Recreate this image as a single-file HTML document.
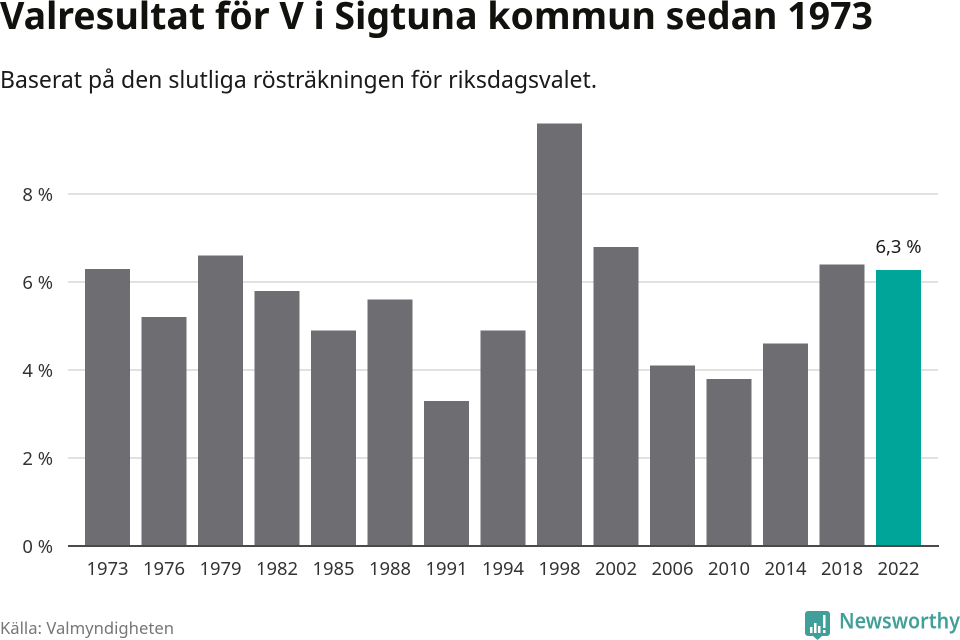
<!DOCTYPE html>
<html lang="sv">
<head>
<meta charset="utf-8">
<title>Valresultat för V i Sigtuna kommun sedan 1973</title>
<style>
html,body{margin:0;padding:0;background:#fff;width:960px;height:640px;overflow:hidden}
svg{display:block}
text{font-family:"Noto Sans","Open Sans","Liberation Sans","Noto Sans CJK SC",sans-serif}
</style>
</head>
<body>
<svg id="chart" width="960" height="640" viewBox="0 0 960 640" xmlns="http://www.w3.org/2000/svg">
  <text x="0" y="29" font-size="38" font-weight="700" fill="#11120d" textLength="873" lengthAdjust="spacingAndGlyphs">Valresultat för V i Sigtuna kommun sedan 1973</text>
  <text x="0" y="88" font-size="24" fill="#1a1a1a" textLength="597" lengthAdjust="spacingAndGlyphs">Baserat på den slutliga rösträkningen för riksdagsvalet.</text>
  <g id="grid"></g>
  <g id="bars"></g>
  <g id="axis"></g>
  <text x="0" y="634" font-size="16.6" fill="#767676" textLength="174" lengthAdjust="spacingAndGlyphs">Källa: Valmyndigheten</text>
  <g>
    <path d="M808 611h19a3 3 0 0 1 3 3v19a3 3 0 0 1-3 3h-5l-4.500 4-4.500-4h-5a3 3 0 0 1-3-3v-19a3 3 0 0 1 3-3z" fill="#409f98"/>
    <g fill="#fff">
      <rect x="810" y="627" width="2.500" height="6"/>
      <rect x="814" y="623" width="2.500" height="10"/>
      <rect x="818" y="626" width="2.500" height="7"/>
      <rect x="823" y="615" width="2.500" height="13"/>
      <rect x="823" y="630" width="2.500" height="3"/>
    </g>
    <text x="839" y="628.500" font-size="21.500" font-weight="600" fill="#409f98" textLength="121" lengthAdjust="spacingAndGlyphs">Newsworthy</text>
  </g>
</svg>
<script>
const categories = ["1973","1976","1979","1982","1985","1988","1991","1994","1998","2002","2006","2010","2014","2018","2022"];
const seriesValues = [6.3,5.2,6.6,5.8,4.9,5.6,3.3,4.9,9.6,6.8,4.1,3.8,4.6,6.4,6.27];
const yTicks = [0,2,4,6,8];
const yTickLabels = ["0 %","2 %","4 %","6 %","8 %"];
const highlightLabel = "6,3 %";

const NS = "http://www.w3.org/2000/svg";
const plotLeft = 79, bandStep = 56.5, barWidth = 45;
const plotRight = 938, axisLeft = 68;
const baseY = 546, unitPx = 44;
function xBand(i){ return plotLeft + bandStep * i; }
function yScale(v){ return baseY - v * unitPx; }
function make(tag, attrs, parent, content){
  const el = document.createElementNS(NS, tag);
  for (const k in attrs) el.setAttribute(k, attrs[k]);
  if (content !== undefined) el.textContent = content;
  parent.appendChild(el);
  return el;
}
const grid = document.getElementById("grid");
const bars = document.getElementById("bars");
const axis = document.getElementById("axis");

yTicks.forEach(function(t, i){
  if (t !== 0) {
    const line = make("line", {x1: axisLeft, x2: plotRight, y1: yScale(t), y2: yScale(t), stroke: "#e1e1e1", "stroke-width": 2}, grid);
    
    
  }
  const label = make("text", {x: 53, y: yScale(t) + 7, "text-anchor": "end", "font-size": 18.4, fill: "#333"}, axis, yTickLabels[i]);
  
  
});

categories.forEach(function(c, i){
  const last = i === categories.length - 1;
  const v = seriesValues[i];
  const bar = make("rect", {x: xBand(i) + 6, y: yScale(v), width: barWidth, height: baseY - yScale(v), fill: last ? "#00a599" : "#6e6d72", "shape-rendering": "crispEdges"}, bars);
  
  
  const label = make("text", {x: xBand(i) + 6 + barWidth / 2, y: 575, "text-anchor": "middle", "font-size": 18.4, fill: "#333"}, axis, c);
  
  
  if (last) {
    const val = make("text", {x: xBand(i) + 6 + barWidth / 2, y: yScale(v) - 17, "text-anchor": "middle", "font-size": 18.4, fill: "#1a1a1a"}, axis, highlightLabel);
    
    
  }
});

const baseline = make("line", {x1: axisLeft, x2: plotRight + 1, y1: baseY, y2: baseY, stroke: "#4a4a4a", "stroke-width": 2}, axis);


</script>
</body>
</html>
